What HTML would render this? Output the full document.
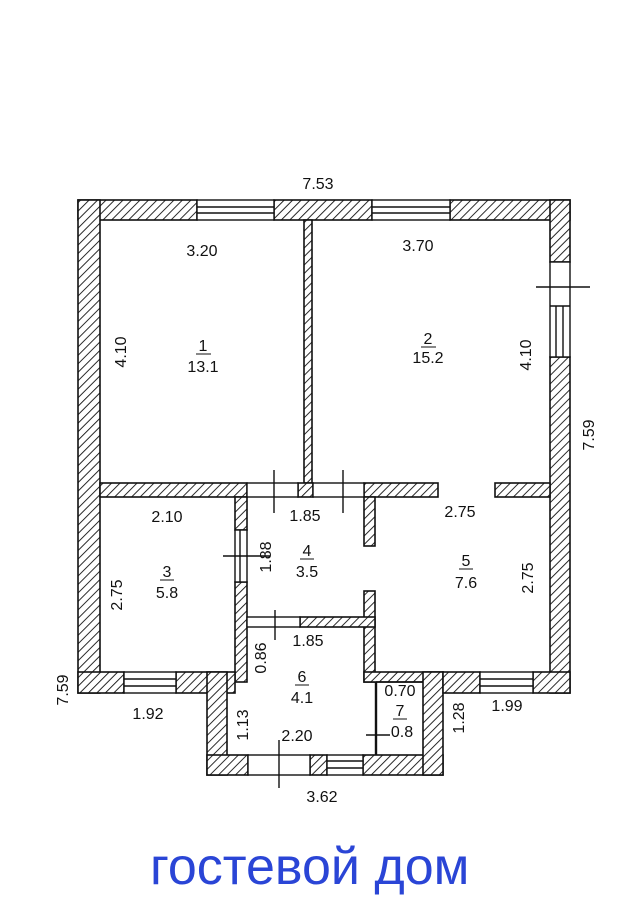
<!DOCTYPE html>
<html><head><meta charset="utf-8"><style>
html,body{margin:0;padding:0;background:#fff;}
svg{display:block}
text{font-family:"Liberation Sans",sans-serif;font-size:16px;fill:#111;}
</style></head><body>
<svg width="620" height="910" viewBox="0 0 620 910" xmlns="http://www.w3.org/2000/svg">
<defs>
<pattern id="h" patternUnits="userSpaceOnUse" width="6" height="6" patternTransform="rotate(45)">
<rect width="6" height="6" fill="#fff"/><line x1="0" y1="0" x2="0" y2="6" stroke="#111" stroke-width="1.8"/>
</pattern>
</defs>
<g stroke="#111" stroke-width="1.6" fill="url(#h)">
<rect x="78" y="200" width="119" height="20"/>
<rect x="274" y="200" width="98" height="20"/>
<rect x="450" y="200" width="120" height="20"/>
<rect x="78" y="200" width="22" height="493"/>
<rect x="550" y="200" width="20" height="62"/>
<rect x="550" y="357" width="20" height="336"/>
<rect x="304" y="220" width="8" height="263"/>
<rect x="100" y="483" width="147" height="14"/>
<rect x="298" y="483" width="15" height="14"/>
<rect x="364" y="483" width="74" height="14"/>
<rect x="495" y="483" width="55" height="14"/>
<rect x="235" y="497" width="12" height="33"/>
<rect x="235" y="582" width="12" height="100"/>
<rect x="364" y="497" width="11" height="49"/>
<rect x="364" y="591" width="11" height="91"/>
<rect x="300" y="617" width="75" height="10"/>
<rect x="78" y="672" width="46" height="21"/>
<rect x="176" y="672" width="59" height="21"/>
<rect x="207" y="672" width="20" height="103"/>
<rect x="207" y="755" width="41" height="20"/>
<rect x="310" y="755" width="17" height="20"/>
<rect x="363" y="755" width="80" height="20"/>
<rect x="364" y="672" width="79" height="10"/>
<rect x="423" y="672" width="20" height="103"/>
<rect x="443" y="672" width="37" height="21"/>
<rect x="533" y="672" width="37" height="21"/>
</g>
<g stroke="#111" stroke-width="1.4" fill="#fff">
<rect x="197" y="200" width="77" height="20"/>
<rect x="372" y="200" width="78" height="20"/>
<rect x="550" y="262" width="20" height="95"/>
<rect x="124" y="672" width="52" height="21"/>
<rect x="480" y="672" width="53" height="21"/>
<rect x="327" y="755" width="36" height="20"/>
<rect x="247" y="483" width="51" height="14"/>
<rect x="313" y="483" width="51" height="14"/>
<rect x="235" y="530" width="12" height="52"/>
<rect x="247" y="617" width="53" height="10"/>
<rect x="248" y="755" width="62" height="20"/>
</g>
<g stroke="#111" stroke-width="1.4" fill="none">
<line x1="197" y1="207" x2="274" y2="207"/><line x1="197" y1="213" x2="274" y2="213"/>
<line x1="372" y1="207" x2="450" y2="207"/><line x1="372" y1="213" x2="450" y2="213"/>
<line x1="550" y1="306" x2="570" y2="306"/>
<line x1="556" y1="306" x2="556" y2="357"/><line x1="563" y1="306" x2="563" y2="357"/>
<line x1="536" y1="287" x2="590" y2="287"/>
<line x1="124" y1="679" x2="176" y2="679"/><line x1="124" y1="686" x2="176" y2="686"/>
<line x1="480" y1="679" x2="533" y2="679"/><line x1="480" y1="686" x2="533" y2="686"/>
<line x1="327" y1="761" x2="363" y2="761"/><line x1="327" y1="768" x2="363" y2="768"/>
<line x1="274" y1="470" x2="274" y2="513"/>
<line x1="343" y1="470" x2="343" y2="513"/>
<line x1="223" y1="556" x2="270" y2="556"/>
<line x1="240" y1="530" x2="240" y2="582"/>
<line x1="275" y1="610" x2="275" y2="640"/>
<line x1="279" y1="740" x2="279" y2="788"/>
<line x1="376" y1="682" x2="376" y2="755" stroke-width="2.4"/>
<line x1="366" y1="735" x2="390" y2="735"/>
<line x1="376" y1="682" x2="423" y2="682"/>
</g>
<g text-anchor="middle">
<text x="318" y="189">7.53</text>
<text x="202" y="256">3.20</text>
<text x="418" y="251">3.70</text>
<text transform="translate(126,352) rotate(-90)">4.10</text>
<text x="203" y="351">1</text><line x1="196" y1="354" x2="211" y2="354" stroke="#111"/>
<text x="203" y="372">13.1</text>
<text x="428" y="344">2</text><line x1="421" y1="347" x2="436" y2="347" stroke="#111"/>
<text x="428" y="363">15.2</text>
<text transform="translate(531,355) rotate(-90)">4.10</text>
<text transform="translate(594,435) rotate(-90)">7.59</text>
<text transform="translate(68,690) rotate(-90)">7.59</text>
<text x="167" y="522">2.10</text>
<text x="305" y="521">1.85</text>
<text x="460" y="517">2.75</text>
<text transform="translate(271,557) rotate(-90)">1.88</text>
<text x="307" y="556">4</text><line x1="300" y1="559" x2="314" y2="559" stroke="#111"/>
<text x="307" y="577">3.5</text>
<text x="167" y="577">3</text><line x1="160" y1="580" x2="174" y2="580" stroke="#111"/>
<text x="167" y="598">5.8</text>
<text transform="translate(122,595) rotate(-90)">2.75</text>
<text x="466" y="566">5</text><line x1="459" y1="569" x2="473" y2="569" stroke="#111"/>
<text x="466" y="588">7.6</text>
<text transform="translate(533,578) rotate(-90)">2.75</text>
<text x="308" y="646">1.85</text>
<text transform="translate(266,658) rotate(-90)">0.86</text>
<text x="302" y="682">6</text><line x1="295" y1="685" x2="309" y2="685" stroke="#111"/>
<text x="302" y="703">4.1</text>
<text x="400" y="696">0.70</text>
<text x="400" y="716">7</text><line x1="393" y1="719" x2="407" y2="719" stroke="#111"/>
<text x="402" y="737">0.8</text>
<text x="148" y="719">1.92</text>
<text x="507" y="711">1.99</text>
<text transform="translate(248,725) rotate(-90)">1.13</text>
<text x="297" y="741">2.20</text>
<text transform="translate(464,718) rotate(-90)">1.28</text>
<text x="322" y="802">3.62</text>
</g>
<text x="150" y="884" style="font-size:52px;fill:#2a45d6;">гостевой дом</text>
</svg>
</body></html>
